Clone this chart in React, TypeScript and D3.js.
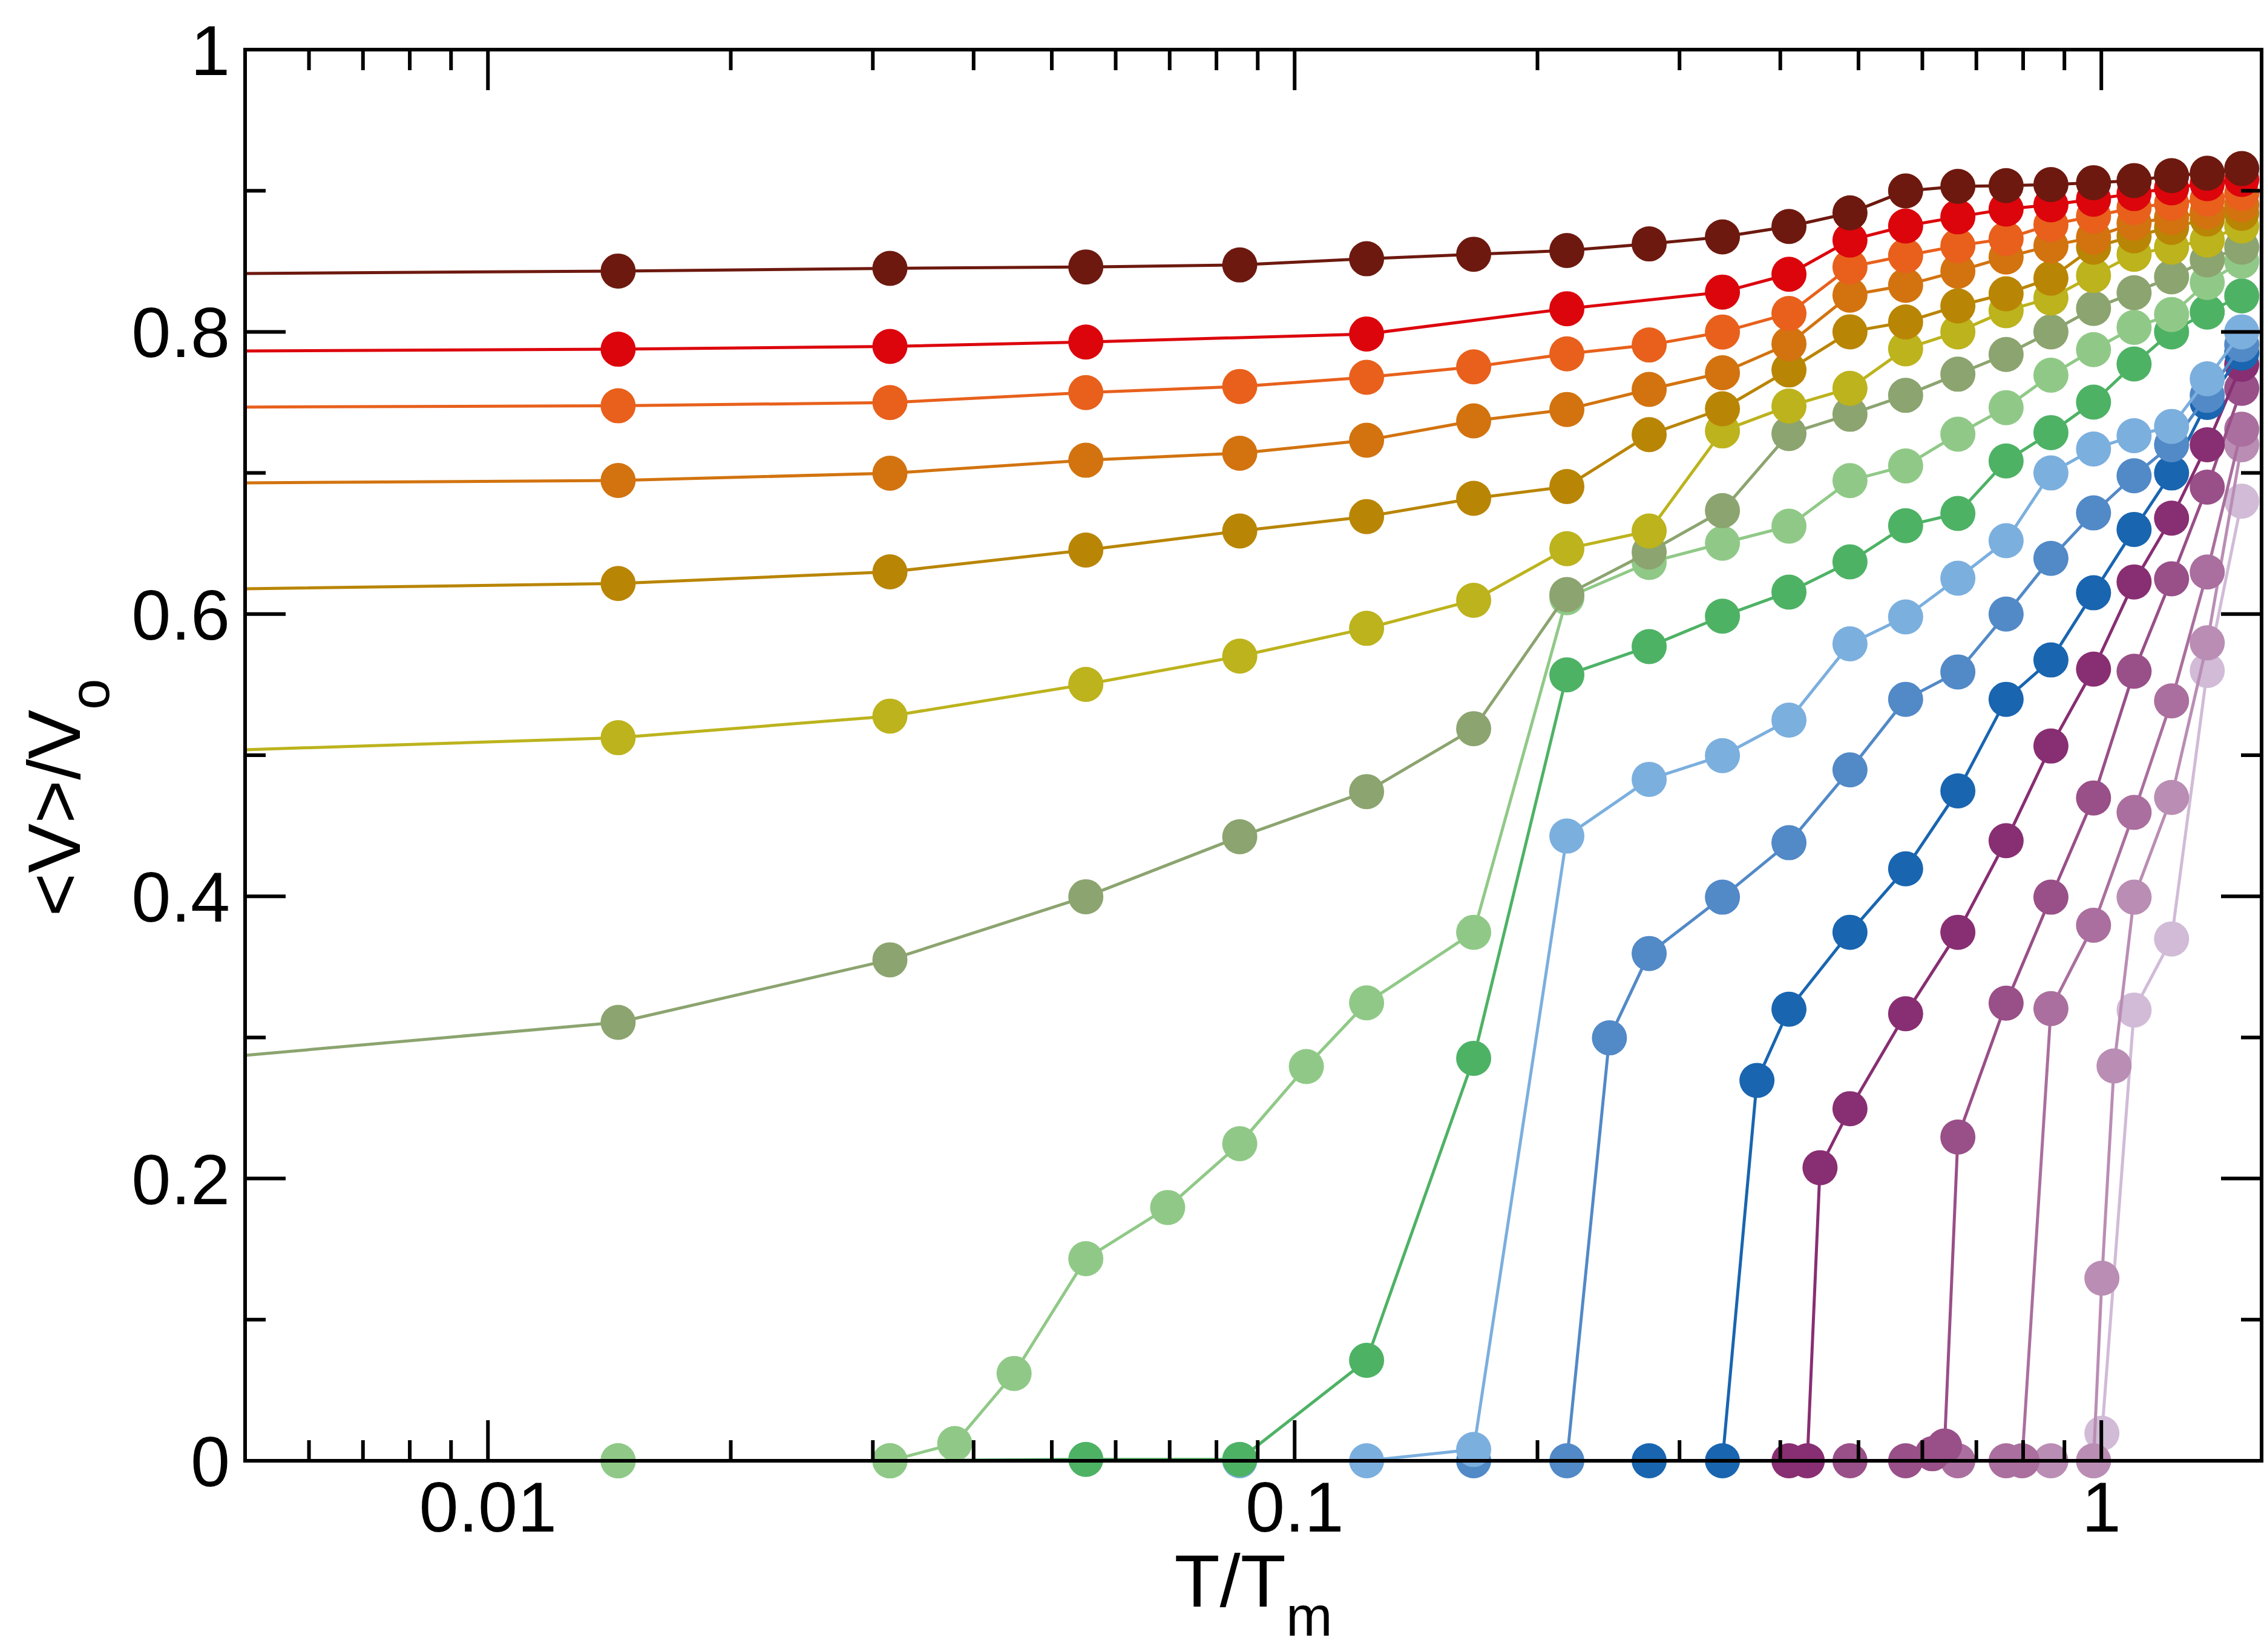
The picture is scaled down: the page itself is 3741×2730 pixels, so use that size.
import React from 'react';
import * as d3 from 'd3';

// ---------- layout ----------
const W = 3741;
const H = 2730;
const PLOT = { left: 405, right: 3737, top: 82, bottom: 2414 };

// ---------- axes ----------
const xDomain: [number, number] = [0.005, 1.58];
const yDomain: [number, number] = [0, 1];
const xMajorTicks = [0.01, 0.1, 1];
const xTickLabels = ['0.01', '0.1', '1'];
const xMinorTicks = [
  0.006, 0.007, 0.008, 0.009,
  0.02, 0.03, 0.04, 0.05, 0.06, 0.07, 0.08, 0.09,
  0.2, 0.3, 0.4, 0.5, 0.6, 0.7, 0.8, 0.9,
];
const yMajorTicks = [0, 0.2, 0.4, 0.6, 0.8, 1];
const yTickLabels = ['0', '0.2', '0.4', '0.6', '0.8', '1'];
const yMinorTicks = [0.1, 0.3, 0.5, 0.7, 0.9];
const xTitle = 'T/T';
const xTitleSub = 'm';
const yTitle = '<V>/V';
const yTitleSub = 'o';

// ---------- data: [T/Tm, <V>/Vo] ----------
const brown: [number, number][] = [
  [0.0035, 0.8408], [0.0145, 0.8431], [0.0315, 0.845], [0.0551, 0.846], [0.0855, 0.8474],
  [0.1228, 0.8518], [0.1667, 0.855], [0.2175, 0.8576], [0.2751, 0.8623], [0.3391, 0.8673],
  [0.41, 0.8747], [0.488, 0.8843], [0.572, 0.8999], [0.664, 0.9031], [0.762, 0.9036],
  [0.866, 0.9044], [0.978, 0.9057], [1.098, 0.9072], [1.222, 0.9107], [1.353, 0.9124], [1.493, 0.9157],
];
const red: [number, number][] = [
  [0.0035, 0.7861], [0.0145, 0.7877], [0.0315, 0.7897], [0.0551, 0.7928], [0.1228, 0.7985],
  [0.2175, 0.8164], [0.3391, 0.8282], [0.41, 0.8408], [0.488, 0.865], [0.572, 0.875],
  [0.664, 0.8815], [0.762, 0.887], [0.866, 0.89], [0.978, 0.894], [1.098, 0.898],
  [1.222, 0.902], [1.353, 0.905], [1.493, 0.908],
];
const orangeRed: [number, number][] = [
  [0.0035, 0.7464], [0.0145, 0.7476], [0.0315, 0.7499], [0.0551, 0.757], [0.0855, 0.7613],
  [0.1228, 0.7678], [0.1667, 0.7752], [0.2175, 0.7844], [0.2751, 0.7907], [0.3391, 0.7999],
  [0.41, 0.813], [0.488, 0.846], [0.572, 0.854], [0.664, 0.861], [0.762, 0.866],
  [0.866, 0.876], [0.978, 0.882], [1.098, 0.888], [1.222, 0.891], [1.353, 0.894], [1.493, 0.898],
];
const orange: [number, number][] = [
  [0.0035, 0.6924], [0.0145, 0.6947], [0.0315, 0.6998], [0.0551, 0.709], [0.0855, 0.714],
  [0.1228, 0.7232], [0.1667, 0.7369], [0.2175, 0.745], [0.2751, 0.7592], [0.3391, 0.771],
  [0.41, 0.7915], [0.488, 0.826], [0.572, 0.833], [0.664, 0.843], [0.762, 0.853],
  [0.866, 0.861], [0.978, 0.867], [1.098, 0.877], [1.222, 0.881], [1.353, 0.885], [1.493, 0.89],
];
const gold: [number, number][] = [
  [0.0035, 0.6166], [0.0145, 0.6217], [0.0315, 0.6299], [0.0551, 0.6454], [0.0855, 0.6589],
  [0.1228, 0.6691], [0.1667, 0.682], [0.2175, 0.6904], [0.2751, 0.7272], [0.3391, 0.7455],
  [0.41, 0.773], [0.488, 0.8], [0.572, 0.807], [0.664, 0.8184], [0.762, 0.827],
  [0.866, 0.838], [0.978, 0.86], [1.098, 0.868], [1.222, 0.874], [1.353, 0.88], [1.493, 0.884],
];
const yellow: [number, number][] = [
  [0.0035, 0.501], [0.0145, 0.5124], [0.0315, 0.5277], [0.0551, 0.5502], [0.0855, 0.5702],
  [0.1228, 0.5899], [0.1667, 0.6098], [0.2175, 0.6463], [0.2751, 0.6589], [0.3391, 0.7298],
  [0.41, 0.7474], [0.488, 0.76], [0.572, 0.788], [0.664, 0.8], [0.762, 0.815],
  [0.866, 0.824], [0.978, 0.84], [1.098, 0.855], [1.222, 0.86], [1.353, 0.865], [1.493, 0.875],
];
const olive: [number, number][] = [
  [0.0035, 0.2795], [0.0145, 0.3107], [0.0315, 0.355], [0.0551, 0.3997], [0.0855, 0.4422],
  [0.1228, 0.4742], [0.1667, 0.5188], [0.2175, 0.6138], [0.2751, 0.644], [0.3391, 0.6733],
  [0.41, 0.7279], [0.488, 0.7416], [0.572, 0.755], [0.664, 0.77], [0.762, 0.784],
  [0.866, 0.8], [0.978, 0.8166], [1.098, 0.8277], [1.222, 0.839], [1.353, 0.851], [1.493, 0.86],
];
const lightGreen: [number, number][] = [
  [0.0145, 0], [0.0315, 0], [0.0379, 0.0122], [0.0449, 0.0619], [0.0551, 0.1432],
  [0.0696, 0.1795], [0.0855, 0.2247], [0.1034, 0.2794], [0.1228, 0.3245], [0.1667, 0.3745],
  [0.2175, 0.6116], [0.2751, 0.6366], [0.3391, 0.6502], [0.41, 0.6623], [0.488, 0.6946],
  [0.572, 0.705], [0.664, 0.7275], [0.762, 0.7463], [0.866, 0.7693], [0.978, 0.7874],
  [1.098, 0.8032], [1.222, 0.8123], [1.353, 0.835], [1.493, 0.85],
];
const green: [number, number][] = [
  [0.0145, 0], [0.0315, 0], [0.0551, 0.001], [0.0855, 0.001], [0.1228, 0.0712],
  [0.1667, 0.2852], [0.2175, 0.5569], [0.2751, 0.577], [0.3391, 0.5985], [0.41, 0.6156],
  [0.488, 0.637], [0.572, 0.6626], [0.664, 0.6713], [0.762, 0.7085], [0.866, 0.7286],
  [0.978, 0.7502], [1.098, 0.7772], [1.222, 0.8], [1.353, 0.814], [1.493, 0.8255],
];
const lightBlue: [number, number][] = [
  [0.0855, 0], [0.1228, 0], [0.1667, 0.008], [0.2175, 0.4427], [0.2751, 0.4829],
  [0.3391, 0.4997], [0.41, 0.5249], [0.488, 0.5789], [0.572, 0.598], [0.664, 0.6254],
  [0.762, 0.652], [0.866, 0.7], [0.978, 0.717], [1.098, 0.7264], [1.222, 0.733],
  [1.353, 0.7667], [1.493, 0.8],
];
const midBlue: [number, number][] = [
  [0.1667, 0], [0.2175, 0], [0.2456, 0.2997], [0.2751, 0.3595], [0.3391, 0.3994],
  [0.41, 0.438], [0.488, 0.4896], [0.572, 0.5396], [0.664, 0.559], [0.762, 0.6],
  [0.866, 0.6395], [0.978, 0.6717], [1.098, 0.698], [1.222, 0.72], [1.353, 0.755], [1.493, 0.791],
];
const darkBlue: [number, number][] = [
  [0.2751, 0], [0.3391, 0], [0.3742, 0.2695], [0.41, 0.32], [0.488, 0.3745],
  [0.572, 0.4195], [0.664, 0.4747], [0.762, 0.5396], [0.866, 0.5675], [0.978, 0.6151],
  [1.098, 0.66], [1.222, 0.7], [1.353, 0.75], [1.493, 0.785],
];
const darkPurple: [number, number][] = [
  [0.41, 0], [0.432, 0], [0.448, 0.2077], [0.488, 0.2495], [0.572, 0.3168],
  [0.664, 0.3745], [0.762, 0.4394], [0.866, 0.5065], [0.978, 0.561], [1.098, 0.6228],
  [1.222, 0.668], [1.353, 0.72], [1.493, 0.777],
];
const purple: [number, number][] = [
  [0.488, 0], [0.572, 0], [0.6174, 0.005], [0.6392, 0.0105], [0.664, 0.2294],
  [0.762, 0.3243], [0.866, 0.3994], [0.978, 0.4697], [1.098, 0.5595], [1.222, 0.625],
  [1.353, 0.69], [1.493, 0.76],
];
const mauve: [number, number][] = [
  [0.664, 0], [0.762, 0], [0.7976, 0], [0.866, 0.3204], [0.978, 0.3795],
  [1.098, 0.4595], [1.222, 0.5385], [1.353, 0.6298], [1.493, 0.731],
];
const lightMauve: [number, number][] = [
  [0.866, 0], [0.978, 0], [1.0017, 0.1294], [1.037, 0.2798], [1.098, 0.3994],
  [1.222, 0.4701], [1.353, 0.5796], [1.493, 0.72],
];
const lilac: [number, number][] = [
  [0.978, 0], [1.0017, 0.0195], [1.098, 0.3194], [1.222, 0.3698], [1.353, 0.56], [1.493, 0.68],
];

// drawn first -> last (last ends up on top)
const seriesData = [
  lilac, lightMauve, mauve, purple, darkPurple, darkBlue, midBlue, lightBlue,
  green, lightGreen, olive, yellow, gold, orange, orangeRed, red, brown,
];
const seriesColors = [
  '#D1BBD7', '#BA8DB4', '#AA6F9E', '#994F88', '#882E72', '#1965B0', '#5289C7', '#7BAFDE',
  '#4EB265', '#90C987', '#8CA46F', '#BCB31D', '#B98505', '#D2730F', '#E8601C', '#DC050C', '#6D190F',
];

const FONT = '"Liberation Sans", Arial, Helvetica, sans-serif';

export default function App() {
  const x = d3.scaleLog().domain(xDomain).range([PLOT.left, PLOT.right]);
  const y = d3.scaleLinear().domain(yDomain).range([PLOT.bottom, PLOT.top]);
  const line = d3
    .line<[number, number]>()
    .x((d) => x(d[0]))
    .y((d) => y(d[1]));

  const majorLen = 67;
  const minorLen = 34;
  const axisW = 6;

  return (
    <svg
      width={W}
      height={H}
      viewBox={`0 0 ${W} ${H}`}
      style={{ position: 'absolute', left: 0, top: 0, display: 'block', background: '#fff' }}
    >
      <defs>
        <clipPath id="plotClip">
          <rect
            x={PLOT.left}
            y={PLOT.top - 100}
            width={PLOT.right - PLOT.left}
            height={PLOT.bottom - PLOT.top + 200}
          />
        </clipPath>
      </defs>
      <rect x={0} y={0} width={W} height={H} fill="#fff" />

      {seriesData.map((s, i) => (
        <g key={i}>
          <path
            d={line(s) || ''}
            fill="none"
            stroke={seriesColors[i]}
            strokeWidth={5}
            strokeLinejoin="round"
            clipPath="url(#plotClip)"
          />
          {s
            .filter((d) => d[0] >= xDomain[0] && d[0] <= xDomain[1])
            .map((d, j) => (
              <circle key={j} cx={x(d[0])} cy={y(d[1])} r={29} fill={seriesColors[i]} />
            ))}
        </g>
      ))}

      {/* frame */}
      <rect
        x={PLOT.left}
        y={PLOT.top}
        width={PLOT.right - PLOT.left}
        height={PLOT.bottom - PLOT.top}
        fill="none"
        stroke="#000"
        strokeWidth={axisW}
      />

      {/* x ticks (bottom and top, inward) */}
      {xMajorTicks.map((t) => (
        <g key={'xM' + t}>
          <line x1={x(t)} x2={x(t)} y1={PLOT.bottom} y2={PLOT.bottom - majorLen} stroke="#000" strokeWidth={axisW} />
          <line x1={x(t)} x2={x(t)} y1={PLOT.top} y2={PLOT.top + majorLen} stroke="#000" strokeWidth={axisW} />
        </g>
      ))}
      {xMinorTicks.map((t) => (
        <g key={'xm' + t}>
          <line x1={x(t)} x2={x(t)} y1={PLOT.bottom} y2={PLOT.bottom - minorLen} stroke="#000" strokeWidth={axisW} />
          <line x1={x(t)} x2={x(t)} y1={PLOT.top} y2={PLOT.top + minorLen} stroke="#000" strokeWidth={axisW} />
        </g>
      ))}

      {/* y ticks (left and right, inward) */}
      {yMajorTicks.map((t) => (
        <g key={'yM' + t}>
          <line x1={PLOT.left} x2={PLOT.left + majorLen} y1={y(t)} y2={y(t)} stroke="#000" strokeWidth={axisW} />
          <line x1={PLOT.right} x2={PLOT.right - majorLen} y1={y(t)} y2={y(t)} stroke="#000" strokeWidth={axisW} />
        </g>
      ))}
      {yMinorTicks.map((t) => (
        <g key={'ym' + t}>
          <line x1={PLOT.left} x2={PLOT.left + minorLen} y1={y(t)} y2={y(t)} stroke="#000" strokeWidth={axisW} />
          <line x1={PLOT.right} x2={PLOT.right - minorLen} y1={y(t)} y2={y(t)} stroke="#000" strokeWidth={axisW} />
        </g>
      ))}

      {/* tick labels */}
      {xMajorTicks.map((t, i) => (
        <text
          key={'xl' + t}
          x={x(t)}
          y={2531}
          textAnchor="middle"
          fontFamily={FONT}
          fontSize={117}
          fill="#000"
        >
          {xTickLabels[i]}
        </text>
      ))}
      {yMajorTicks.map((t, i) => (
        <text
          key={'yl' + t}
          x={380}
          y={y(t) + 42}
          textAnchor="end"
          fontFamily={FONT}
          fontSize={117}
          fill="#000"
        >
          {yTickLabels[i]}
        </text>
      ))}

      {/* axis titles */}
      <text
        x={(PLOT.left + PLOT.right) / 2}
        y={2655}
        textAnchor="middle"
        fontFamily={FONT}
        fontSize={123}
        fill="#000"
      >
        {xTitle}
        <tspan dy={48} fontSize={92}>
          {xTitleSub}
        </tspan>
      </text>
      <text
        transform="translate(132,1318) rotate(-90)"
        textAnchor="middle"
        fontFamily={FONT}
        fontSize={123}
        fill="#000"
      >
        {yTitle}
        <tspan dy={48} fontSize={92}>
          {yTitleSub}
        </tspan>
      </text>
    </svg>
  );
}
